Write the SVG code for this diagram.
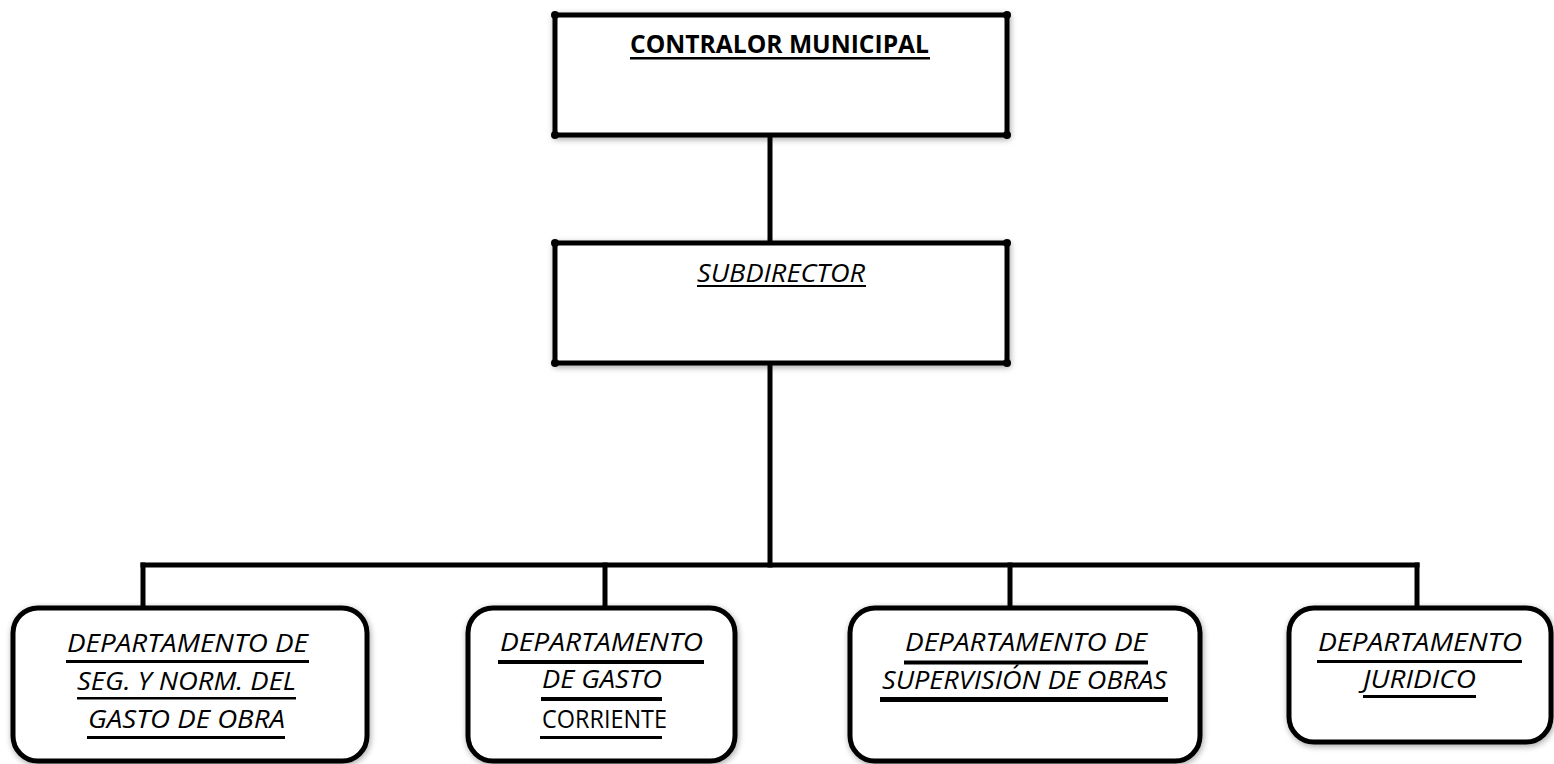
<svg xmlns="http://www.w3.org/2000/svg" width="1554" height="764" viewBox="0 0 1554 764">
<defs>
<filter id="sh" x="-10%" y="-10%" width="120%" height="130%">
<feGaussianBlur in="SourceAlpha" stdDeviation="3"/>
<feOffset dx="1" dy="2" result="b"/>
<feComponentTransfer><feFuncA type="linear" slope="0.35"/></feComponentTransfer>
<feMerge><feMergeNode/><feMergeNode in="SourceGraphic"/></feMerge>
</filter>
</defs>
<style>
.box{fill:#fff;stroke:#000;stroke-width:5;filter:url(#sh)}
.rbox{fill:#fff;stroke:#000;stroke-width:5;filter:url(#sh)}
.dot{fill:#000}
.conn{stroke:#000;stroke-width:5;fill:none;stroke-linecap:square}
.t{font-family:"Open Sans","Noto Sans","Liberation Sans",sans-serif;font-size:25px;fill:#000}
.i{font-style:italic}
.b{font-weight:bold}
.ul{fill:#000}
</style>
<rect width="1554" height="764" fill="#fff"/>
<g id="connectors">
<line class="conn" x1="770" y1="135" x2="770" y2="243"/>
<line class="conn" x1="770" y1="363" x2="770" y2="565"/>
<line class="conn" x1="143" y1="565" x2="1417" y2="565"/>
<line class="conn" x1="143" y1="565" x2="143" y2="608"/>
<line class="conn" x1="605" y1="565" x2="605" y2="608"/>
<line class="conn" x1="1010" y1="565" x2="1010" y2="608"/>
<line class="conn" x1="1417" y1="565" x2="1417" y2="608"/>
</g>
<g id="contralor">
<rect class="box" x="555" y="15" width="452" height="120"/>
<circle class="dot" cx="555" cy="15" r="4"/><circle class="dot" cx="1007" cy="15" r="4"/>
<circle class="dot" cx="555" cy="135" r="4"/><circle class="dot" cx="1007" cy="135" r="4"/>
<text class="t b" x="630" y="53" textLength="299" lengthAdjust="spacingAndGlyphs" font-size="25.5">CONTRALOR MUNICIPAL</text>
<rect class="ul" x="630" y="57" width="300" height="2.5"/>
</g>
<g id="subdirector">
<rect class="box" x="555" y="243" width="452" height="120"/>
<circle class="dot" cx="555" cy="243" r="4"/><circle class="dot" cx="1007" cy="243" r="4"/>
<circle class="dot" cx="555" cy="363" r="4"/><circle class="dot" cx="1007" cy="363" r="4"/>
<text class="t i" x="697" y="282" textLength="168" lengthAdjust="spacingAndGlyphs" font-size="26">SUBDIRECTOR</text>
<rect class="ul" x="697" y="285" width="169" height="2"/>
</g>
<g id="dept-seg">
<rect class="rbox" x="13" y="608" width="354" height="153" rx="25"/>
<text class="t i" x="67" y="652" textLength="241" lengthAdjust="spacingAndGlyphs">DEPARTAMENTO DE</text>
<rect class="ul" x="66" y="660" width="243" height="3"/>
<text class="t i" x="77" y="690" textLength="219" lengthAdjust="spacingAndGlyphs">SEG. Y NORM. DEL</text>
<rect class="ul" x="77" y="697" width="219" height="2.5"/>
<text class="t i" x="88" y="728" textLength="197" lengthAdjust="spacingAndGlyphs">GASTO DE OBRA</text>
<rect class="ul" x="87" y="736" width="198" height="3"/>
</g>
<g id="dept-gasto">
<rect class="rbox" x="468" y="608" width="267" height="153" rx="25"/>
<text class="t i" x="500" y="651" textLength="203" lengthAdjust="spacingAndGlyphs">DEPARTAMENTO</text>
<rect class="ul" x="498" y="660" width="206" height="4"/>
<text class="t i" x="542" y="688" textLength="120" lengthAdjust="spacingAndGlyphs">DE GASTO</text>
<rect class="ul" x="541" y="697" width="121" height="4"/>
<text class="t" x="542" y="728" textLength="125" lengthAdjust="spacingAndGlyphs">CORRIENTE</text>
<rect class="ul" x="540" y="736" width="122" height="3"/>
</g>
<g id="dept-supervision">
<rect class="rbox" x="850" y="608" width="350" height="153" rx="25"/>
<text class="t i" x="905" y="651" textLength="242" lengthAdjust="spacingAndGlyphs">DEPARTAMENTO DE</text>
<rect class="ul" x="904" y="660.5" width="244" height="4"/>
<text class="t i" x="882" y="689" textLength="285" lengthAdjust="spacingAndGlyphs">SUPERVISIÓN DE OBRAS</text>
<rect class="ul" x="880" y="697" width="288" height="5"/>
</g>
<g id="dept-juridico">
<rect class="rbox" x="1289" y="608" width="262" height="134" rx="25"/>
<text class="t i" x="1318" y="651" textLength="204" lengthAdjust="spacingAndGlyphs">DEPARTAMENTO</text>
<rect class="ul" x="1317" y="660" width="205" height="3"/>
<text class="t i" x="1363" y="688" textLength="113" lengthAdjust="spacingAndGlyphs">JURIDICO</text>
<rect class="ul" x="1363" y="695" width="113" height="3"/>
</g>
</svg>
